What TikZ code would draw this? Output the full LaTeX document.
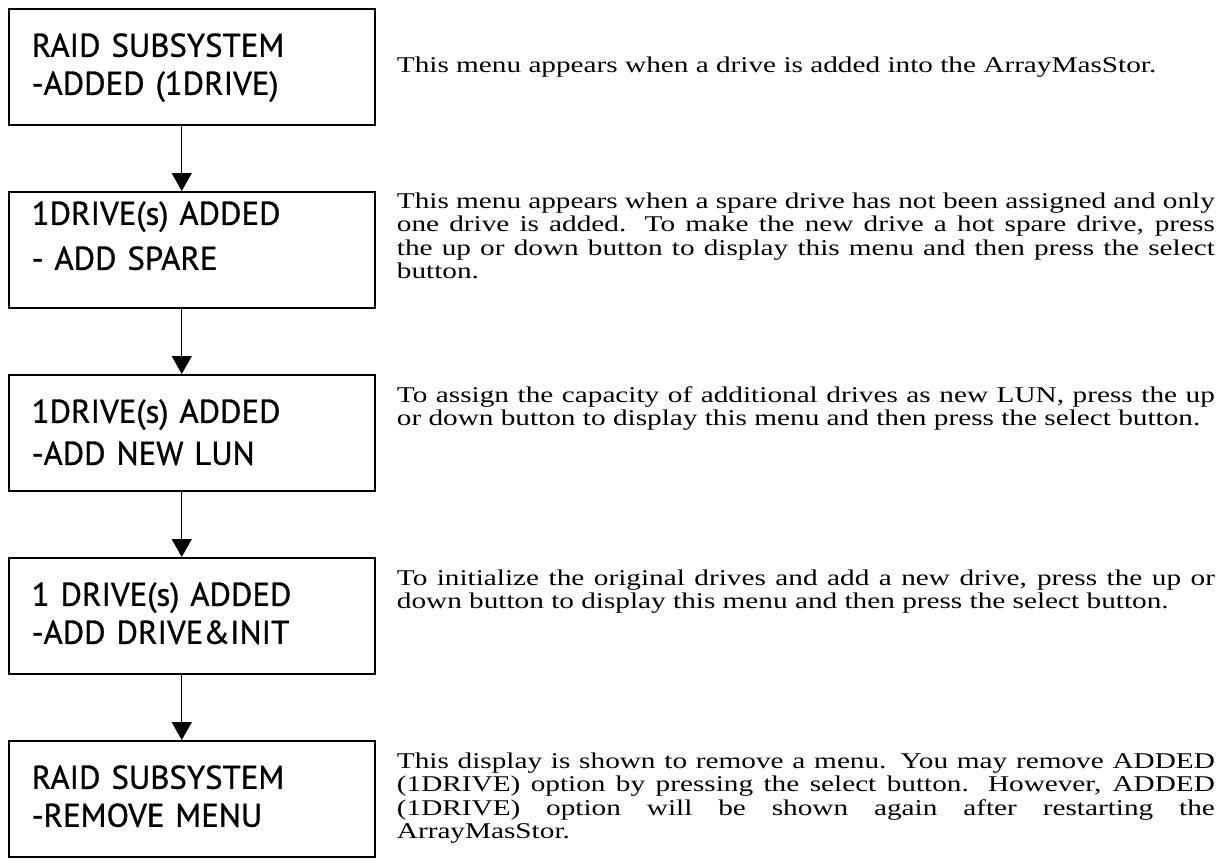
\documentclass[tikz,border=0pt]{standalone}
\usepackage{fontspec}
\setmainfont{Liberation Serif}[FakeStretch=1.3]
\newfontfamily\panelfont{PT Sans}[FakeBold=0.9]
\usetikzlibrary{positioning,arrows.meta}
\tikzset{
  menu/.style={
    draw, line width=0.75pt, minimum width=183pt, minimum height=58pt,
    text width=160pt, inner xsep=11.5pt, align=left,
    text height=12pt, text depth=22pt,
    font=\panelfont\fontsize{16.4}{19}\selectfont,
  },
  note/.style={
    anchor=north west, text width=409pt, inner sep=0pt, align=justify,
    font=\fontsize{11.25}{11.75}\selectfont,
  },
  flow/.style={-{Triangle[width=10pt,length=9pt]}, line width=0.7pt},
}

\begin{document}
\begin{tikzpicture}[x=0.5pt, y=-0.5pt, node distance=32.75pt]
\useasboundingbox (0,0) rectangle (1221,863);

% menu displays
\node[menu, anchor=north west] (raid) at (8,8) {RAID SUBSYSTEM\\-ADDED (1DRIVE)};
\node[menu, below=of raid, text depth=37pt] (spare) {1DRIVE(s) ADDED\\[3.5pt]- ADD SPARE};
\node[menu, below=of spare] (lun) {1DRIVE(s) ADDED\\[2pt]-ADD NEW LUN};
\node[menu, below=of lun] (init) {1 DRIVE(s) ADDED\\-ADD DRIVE\&INIT};
\node[menu, below=of init] (remove) {RAID SUBSYSTEM\\-REMOVE MENU};

\foreach \a/\b in {raid/spare, spare/lun, lun/init, init/remove}
  \draw[flow] ([xshift=-5pt]\a.south) -- ([xshift=-5pt]\b.north);

% explanations
\node[note, anchor=west, right=10.5pt of raid] (raidnote)
  {This menu appears when a drive is added into the ArrayMasStor.};
\node[note] (sparenote) at ([xshift=10.5pt,yshift=-0.5pt]spare.north east)
  {This menu appears when a spare drive has not been assigned and only\linebreak
   one drive is added.  To make the new drive a hot spare drive, press\linebreak
   the up or down button to display this menu and then press the select\linebreak
   button.};
\node[note] (lunnote) at ([xshift=10.5pt,yshift=-6pt]lun.north east)
  {To assign the capacity of additional drives as new LUN, press the up\linebreak
   or down button to display this menu and then press the select button.};
\node[note] (initnote) at ([xshift=10.5pt,yshift=-6pt]init.north east)
  {To initialize the original drives and add a new drive, press the up or\linebreak
   down button to display this menu and then press the select button.};
\node[note] (removenote) at ([xshift=10.5pt,yshift=-6pt]remove.north east)
  {This display is shown to remove a menu.  You may remove ADDED\linebreak
   (1DRIVE) option by pressing the select button.  However, ADDED\linebreak
   (1DRIVE) option will be shown again after restarting the\linebreak
   ArrayMasStor.};

\end{tikzpicture}
\end{document}
